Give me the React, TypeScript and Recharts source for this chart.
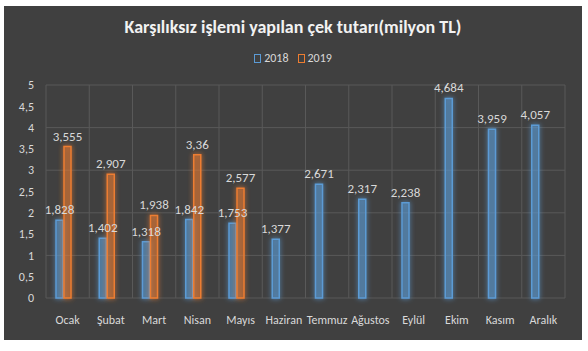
import React from 'react';
import { BarChart, Bar, XAxis, YAxis, CartesianGrid, LabelList } from 'recharts';

// data (milyon TL)
const months = ['Ocak', 'Şubat', 'Mart', 'Nisan', 'Mayıs', 'Haziran', 'Temmuz', 'Ağustos', 'Eylül', 'Ekim', 'Kasım', 'Aralık'];
const values2018 = [1.828, 1.402, 1.318, 1.842, 1.753, 1.377, 2.671, 2.317, 2.238, 4.684, 3.959, 4.057];
const values2019 = [3.555, 2.907, 1.938, 3.36, 2.577, null, null, null, null, null, null, null];
const yTicks = [0, 0.5, 1, 1.5, 2, 2.5, 3, 3.5, 4, 4.5, 5];

const title = 'Karşılıksız işlemi yapılan çek tutarı(milyon TL)';

// the original chart keeps an empty third slot per month (series without values)
const data = months.map((name, i) => ({
  name,
  y2018: values2018[i],
  y2019: values2019[i],
  y2020: null,
}));

const FONT = "Carlito, Calibri, Lato, 'Open Sans', sans-serif";
const BLUE = '#5B9BD5';
const ORANGE = '#ED7D31';
const TEXT = '#D9D9D9';

const fmt = (v: any) => (v == null ? '' : String(v).replace('.', ','));

const LegendBox = () => (
  <div style={{ position: 'absolute', top: 44, width: '100%', display: 'flex', justifyContent: 'center', alignItems: 'center', fontSize: 12, lineHeight: '16px', color: TEXT }}>
    <span style={{ display: 'inline-block', width: 5, height: 7, border: `1px solid ${BLUE}`, marginRight: 3 }} />
    <span style={{ marginRight: 9 }}>2018</span>
    <span style={{ display: 'inline-block', width: 5, height: 7, border: `1px solid ${ORANGE}`, marginRight: 3 }} />
    <span>2019</span>
  </div>
);

export default function App() {
  return (
    <div style={{ position: 'absolute', left: 4, top: 6, width: 578, height: 334, background: '#404040', fontFamily: FONT }}>
      <svg width={0} height={0} style={{ position: 'absolute' }}>
        <defs>
          <filter id="glow" x="-100%" y="-20%" width="300%" height="140%">
            <feGaussianBlur in="SourceGraphic" stdDeviation="2.5" result="b" />
            <feMerge>
              <feMergeNode in="b" />
              <feMergeNode in="SourceGraphic" />
            </feMerge>
          </filter>
        </defs>
      </svg>
      <div style={{ position: 'absolute', top: 11, width: '100%', textAlign: 'center', color: '#F2F2F2', fontSize: 18, lineHeight: '20px', fontWeight: 700 }}>
        {title}
      </div>
      <LegendBox />
      <BarChart width={578} height={334} data={data} margin={{ top: 79, right: 17, left: 0, bottom: 0 }} barSize={7} barGap={1}>
        <CartesianGrid
          stroke="#595959"
          verticalCoordinatesGenerator={({ offset }: any) =>
            months.map((_, i) => offset.left + (i * offset.width) / months.length).concat(offset.left + offset.width)
          }
        />
        <XAxis
          dataKey="name"
          tickLine={false}
          axisLine={false}
          height={42}
          tickMargin={11}
          interval={0}
          tick={{ fill: TEXT, fontSize: 12, fontFamily: FONT }}
        />
        <YAxis
          domain={[0, 5]}
          ticks={yTicks}
          width={42}
          tickLine={false}
          axisLine={false}
          tickMargin={6}
          tickFormatter={fmt}
          tick={{ fill: TEXT, fontSize: 12, fontFamily: FONT }}
        />
        <Bar dataKey="y2018" name="2018" fill={BLUE} fillOpacity={0.35} stroke={BLUE} strokeWidth={1.5} filter="url(#glow)" isAnimationActive={false}>
          <LabelList dataKey="y2018" position="top" offset={6} formatter={fmt} fill={TEXT} fontSize={13} fontFamily={FONT} />
        </Bar>
        <Bar dataKey="y2019" name="2019" fill={ORANGE} fillOpacity={0.3} stroke={ORANGE} strokeWidth={1.5} filter="url(#glow)" isAnimationActive={false}>
          <LabelList dataKey="y2019" position="top" offset={6} formatter={fmt} fill={TEXT} fontSize={13} fontFamily={FONT} />
        </Bar>
        <Bar dataKey="y2020" legendType="none" fill="transparent" isAnimationActive={false} />
      </BarChart>
    </div>
  );
}
